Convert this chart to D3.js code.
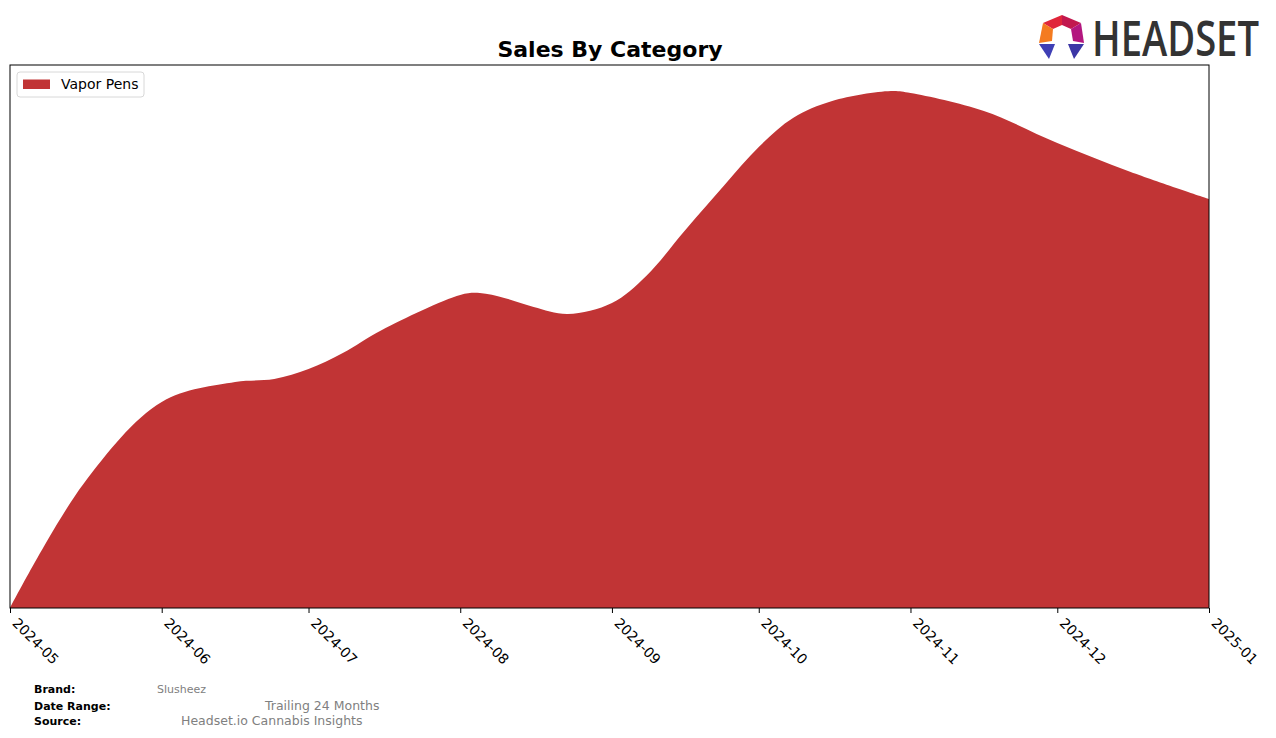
<!DOCTYPE html>
<html>
<head>
<meta charset="utf-8">
<script src="https://cdn.jsdelivr.net/npm/d3@7"></script>
<style>
  body { margin: 0; background: #fff; }
  svg { display: block; font-family: "DejaVu Sans", sans-serif; }
</style>
</head>
<body>
<svg id="chart" width="1276" height="738"></svg>
<script>
// readings of the Vapor Pens area (no y axis in the original, arbitrary units)
var dates = ["2024-05-01","2024-05-16","2024-06-01","2024-06-16","2024-06-24","2024-07-01",
  "2024-07-08","2024-07-16","2024-08-01","2024-08-05","2024-08-10","2024-08-16","2024-08-23",
  "2024-09-01","2024-09-08","2024-09-16","2024-09-24","2024-10-01","2024-10-08","2024-10-16",
  "2024-10-28","2024-11-01","2024-11-16","2024-12-01","2024-12-16","2025-01-01"];
var vaporPens = [0, 124, 206, 226, 229, 239,
  255, 278, 313, 315, 310, 301, 294,
  305, 332, 378, 423, 461, 490, 507,
  517, 515, 497, 465, 436, 409];
var tickLabels = ["2024-05","2024-06","2024-07","2024-08","2024-09","2024-10","2024-11","2024-12","2025-01"];
var seriesName = "Vapor Pens";
var seriesColor = "#c13435";
var footerKeys = ["Brand:", "Date Range:", "Source:"];
var footerValues = ["Slusheez", "Trailing 24 Months", "Headset.io Cannabis Insights"];

var parseDay = d3.timeParse("%Y-%m-%d");
var parseMonth = d3.timeParse("%Y-%m");

var data = dates.map(function(d, i){
  return { date: parseDay(d), value: vaporPens[i] };
});

var svg = d3.select("#chart");
var margin = {top: 65, left: 10, right: 67, bottom: 130};
var width = 1276 - margin.left - margin.right;
var height = 738 - margin.top - margin.bottom;

var g = svg.append("g").attr("transform", "translate(" + margin.left + "," + margin.top + ")");

var x = d3.scaleTime()
  .domain([parseMonth(tickLabels[0]), parseMonth(tickLabels[tickLabels.length-1])])
  .range([0, width]);
var y = d3.scaleLinear()
  .domain([0, 543])
  .range([height, 0]);

var area = d3.area()
  .curve(d3.curveCatmullRom.alpha(0.5))
  .x(function(d){ return x(d.date); })
  .y0(height)
  .y1(function(d){ return y(d.value); });

g.append("path")
  .datum(data)
  .attr("fill", seriesColor)
  .attr("d", area);

// x axis
var xAxis = d3.axisBottom(x)
  .tickValues(tickLabels.map(parseMonth))
  .tickFormat(d3.timeFormat("%Y-%m"))
  .tickSizeInner(5)
  .tickSizeOuter(0);

var ax = g.append("g")
  .attr("transform", "translate(0," + height + ")")
  .call(xAxis);
ax.select(".domain").remove();
ax.selectAll(".tick line").attr("stroke", "#000").attr("stroke-width", 1);
ax.selectAll(".tick text")
  .attr("x", 0).attr("y", 0).attr("dy", 0)
  .attr("text-anchor", "start")
  .attr("transform", "translate(1,16) rotate(45)")
  .style("font-family", "DejaVu Sans")
  .style("font-size", "14px")
  .attr("fill", "#000");

// frame
g.append("rect")
  .attr("x", 0).attr("y", 0)
  .attr("width", width).attr("height", height)
  .attr("fill", "none")
  .attr("stroke", "#000")
  .attr("stroke-width", 1);

// title
svg.append("text")
  .attr("x", 610).attr("y", 57)
  .attr("text-anchor", "middle")
  .style("font-size", "22px")
  .style("font-weight", "bold")
  .text("Sales By Category");

// legend
var legend = g.append("g").attr("transform", "translate(7,7)");
legend.append("rect")
  .attr("width", 127).attr("height", 25)
  .attr("rx", 3)
  .attr("fill", "#fff")
  .attr("stroke", "#d8d8d8");
legend.append("rect")
  .attr("x", 6).attr("y", 7.5)
  .attr("width", 27).attr("height", 9.5)
  .attr("fill", seriesColor);
legend.append("text")
  .attr("x", 44).attr("y", 17)
  .style("font-size", "14px")
  .text(seriesName);

// footer
var footY = [689, 706, 721];
var footX = [157, 265, 181];
footerKeys.forEach(function(k, i){
  svg.append("text")
    .attr("x", 34).attr("y", footY[i] + 4)
    .style("font-size", "11px")
    .style("font-weight", "bold")
    .text(k);
  svg.append("text")
    .attr("x", footX[i]).attr("y", footY[i] + 4)
    .style("font-size", i == 0 ? "11px" : "12.5px")
    .attr("fill", "#808080")
    .text(footerValues[i]);
});

// logo
var logo = svg.append("g");
var pieces = [
  { c: "#e0263a", p: [[1043,23],[1062,15],[1062,25],[1053,29]] },
  { c: "#c2184e", p: [[1062,15],[1081,23],[1071,29],[1062,25]] },
  { c: "#b3177f", p: [[1081,23],[1084,43],[1073,41],[1071,29]] },
  { c: "#f47b20", p: [[1043,23],[1053,29],[1052,41],[1039,43]] },
  { c: "#3f3fb5", p: [[1039,44],[1055,44],[1049,59]] },
  { c: "#3c36a6", p: [[1068,44],[1084,44],[1074,59]] }
];
pieces.forEach(function(s){
  logo.append("polygon")
    .attr("points", s.p.map(function(q){ return q.join(","); }).join(" "))
    .attr("fill", s.c);
});
var logoText = logo.append("text")
  .attr("x", 0).attr("y", 0)
  .style("font-family", "Open Sans, sans-serif")
  .style("font-size", "49px")
  .style("font-weight", "600")
  .attr("fill", "#333")
  .text("HEADSET");
var natural = logoText.node().getComputedTextLength();
logoText.attr("transform", "translate(1092,56) scale(" + (167 / natural) + ",1)");
</script>
</body>
</html>
